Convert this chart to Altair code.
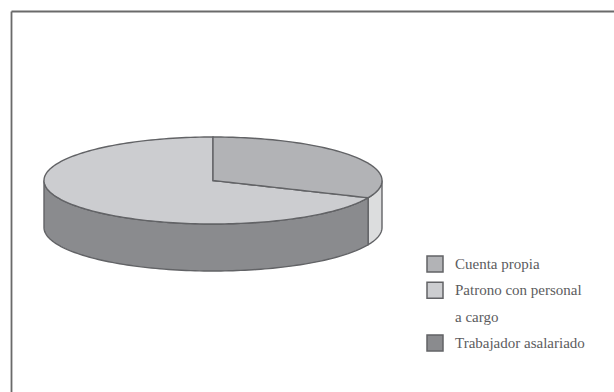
import math
import numpy as np
import pandas as pd
import altair as alt

# Series shown in the legend; the long label wraps onto a blank-swatch row
categories = ["Cuenta propia", "Patrono con personal", "a cargo", "Trabajador asalariado"]
fills = ["#b2b3b6", "#cccdd0", "transparent", "#8a8b8e"]
outlines = ["#626366", "#626366", "transparent", "#626366"]
cuenta_propia_share = 31.5

# Tilted-disc geometry in plot units
CX, CY, RX, RY, DEPTH = 202.0, 169.5, 169.0, 43.5, 47.0
EDGE = "#626366"
FRAME = "#6a6a6a"
PLOT_W, PLOT_H = 603, 381


def upper(x):
    return CY - RY * np.sqrt(np.clip(1 - ((x - CX) / RX) ** 2, 0, 1))


def lower(x):
    return CY + RY * np.sqrt(np.clip(1 - ((x - CX) / RX) ** 2, 0, 1))


theta = math.radians(cuenta_propia_share * 3.6)
split_x = CX + RX * math.sin(theta)
split_y = CY - RY * math.cos(theta)


def radial(x):
    return CY + (x - CX) * (split_y - CY) / (split_x - CX)


left_xs = CX - RX * np.cos(np.linspace(0, math.pi / 2, 60))
right_xs = np.linspace(CX, split_x, 40)
end_xs = np.sort(CX + RX * np.sin(np.linspace(theta, math.pi / 2, 30)))

top_small = pd.concat([
    pd.DataFrame({"serie": categories[0], "x": right_xs, "y": upper(right_xs), "y2": radial(right_xs)}),
    pd.DataFrame({"serie": categories[0], "x": end_xs, "y": upper(end_xs), "y2": lower(end_xs)}),
])
top_large = pd.concat([
    pd.DataFrame({"serie": categories[1], "x": left_xs, "y": upper(left_xs), "y2": lower(left_xs)}),
    pd.DataFrame({"serie": categories[1], "x": right_xs, "y": radial(right_xs), "y2": lower(right_xs)}),
])
side_xs = np.concatenate([left_xs, right_xs])
side_large = pd.DataFrame({"serie": categories[3], "x": side_xs, "y": lower(side_xs), "y2": lower(side_xs) + DEPTH})
side_small = pd.DataFrame({"x": end_xs, "y": lower(end_xs), "y2": lower(end_xs) + DEPTH})

x_scale = alt.Scale(domain=[0, PLOT_W], range=[0, PLOT_W], nice=False, zero=False)
y_scale = alt.Scale(domain=[0, PLOT_H], range=[0, PLOT_H], nice=False, zero=False)

# The only frame lines are the top and left axis domains
frame_axis = dict(
    title=None,
    labels=False,
    ticks=False,
    grid=False,
    domain=True,
    domainColor=FRAME,
    domainWidth=1.8,
)
X = alt.X("x:Q", scale=x_scale, axis=alt.Axis(orient="top", **frame_axis))
Y = alt.Y("y:Q", scale=y_scale, axis=alt.Axis(orient="left", **frame_axis))
Y2 = alt.Y2("y2:Q")

legend = alt.Legend(
    title=None,
    orient="none",
    legendX=415,
    legendY=244,
    symbolType="square",
    symbolSize=256,
    symbolStrokeWidth=1.5,
    labelFont="Liberation Serif",
    labelFontSize=15,
    labelColor="#5c5c5e",
    labelLimit=200,
    labelOffset=11,
    rowPadding=4.3,
    padding=0,
)


def face_layer(frame):
    return alt.Chart(frame).mark_area(strokeWidth=1.4).encode(
        x=X,
        y=Y,
        y2=Y2,
        color=alt.Color("serie:N", scale=alt.Scale(domain=categories, range=fills), legend=legend),
        stroke=alt.Stroke("serie:N", scale=alt.Scale(domain=categories, range=outlines), legend=legend),
    )


sliver = alt.Chart(side_small).mark_area(color="#dcddde", stroke=EDGE, strokeWidth=1.4).encode(x=X, y=Y, y2=Y2)

chart = (
    alt.layer(sliver, face_layer(side_large), face_layer(top_large), face_layer(top_small))
    .properties(
        width=PLOT_W,
        height=PLOT_H,
        padding={"left": 11, "top": 11, "right": 0, "bottom": 0},
        autosize=alt.AutoSizeParams(type="none"),
        background="white",
    )
    .configure_view(stroke=None)
)

chart.save("out.html", embed_options={"renderer": "svg", "actions": False})
